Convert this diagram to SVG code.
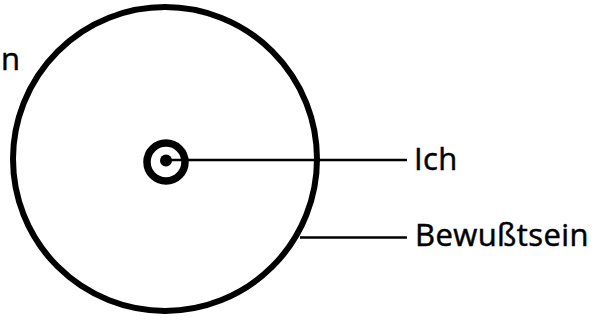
<svg xmlns="http://www.w3.org/2000/svg" width="595" height="320" viewBox="0 0 595 320">
<style>
.t{font-family:"Open Sans","Liberation Sans",sans-serif;font-size:31px;fill:#000;stroke:#000;stroke-width:0.5;letter-spacing:0.4px}
.c{fill:none;stroke:#000}
.l{stroke:#000;stroke-width:2.5}
</style>
<rect width="595" height="320" fill="#fff"/>
<g id="bewusstsein">
<circle class="c" cx="165" cy="159" r="152" stroke-width="6"/>
</g>
<g id="ich">
<circle class="c" cx="166" cy="162" r="19" stroke-width="7.5"/>
<circle cx="166" cy="160.5" r="6" fill="#000"/>
</g>
<g id="connectors">
<line class="l" x1="166" y1="160" x2="407" y2="160"/>
<line class="l" x1="300" y1="237.5" x2="407" y2="237.5"/>
</g>
<g id="labels">
<text class="t" x="414" y="170">Ich</text>
<text class="t" x="415" y="246">Bewußtsein</text>
<text class="t" x="1" y="70">n</text>
</g>
</svg>
